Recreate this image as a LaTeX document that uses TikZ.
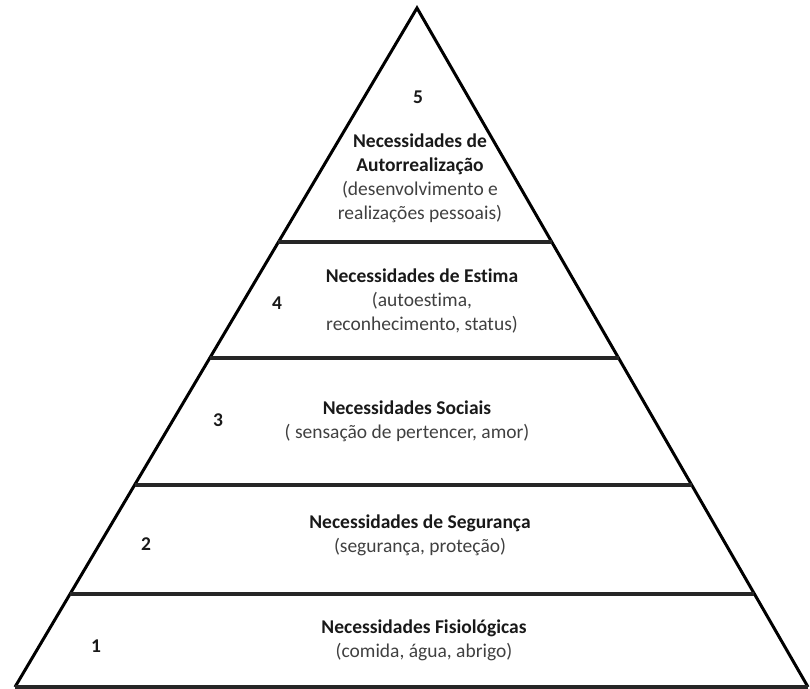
\documentclass[tikz,border=0pt]{standalone}
\usepackage{fontspec}
\setmainfont{Carlito}[Ligatures=NoCommon]
\usepackage{tikz}
\usetikzlibrary{positioning,calc}

\newcommand{\lvlhead}[1]{\textcolor{black!90}{\textbf{#1}}}

\begin{document}
\begin{tikzpicture}[
    x=1pt, y=-1pt,
    edge/.style={line width=3pt, line join=miter},
    divider/.style={line width=3.2pt, black!85},
    lvltext/.style={font=\fontsize{19.5}{24}\selectfont, text=black!75, align=center, inner sep=0pt},
    lvlnum/.style={font=\fontsize{19.5}{24}\selectfont\bfseries, text=black!90, inner sep=0pt}
]
    \useasboundingbox (0,0) rectangle (810,688);

    % Pyramid outline
    \coordinate (apex) at (417,8);
    \coordinate (bl) at (15,687);
    \coordinate (br) at (808,687);
    \draw[edge] (bl) -- (apex) -- (br);
    \draw[divider] (bl) -- (br);

    % Level dividers
    \foreach \t in {0.3446,0.5155,0.7025,0.863}
        \draw[divider] ($(apex)!\t!(bl)$) -- ($(apex)!\t!(br)$);

    % Level 5
    \node[lvlnum] (num5) at (418,97) {5};
    \node[lvltext] (lvl5) at (420,178) {\lvlhead{Necessidades de}\\\lvlhead{Autorrealização}\\(desenvolvimento e\\realizações pessoais)};

    % Level 4
    \node[lvlnum] (num4) at (277,303) {4};
    \node[lvltext] (lvl4) at (422,301) {\lvlhead{Necessidades de Estima}\\(autoestima,\\reconhecimento, status)};

    % Level 3
    \node[lvlnum] (num3) at (218,420) {3};
    \node[lvltext] (lvl3) at (407,421) {\lvlhead{Necessidades Sociais}\\( sensação de pertencer, amor)};

    % Level 2
    \node[lvlnum] (num2) at (146,544) {2};
    \node[lvltext] (lvl2) at (420,535) {\lvlhead{Necessidades de Segurança}\\(segurança, proteção)};

    % Level 1
    \node[lvlnum] (num1) at (96,646) {1};
    \node[lvltext] (lvl1) at (424,640) {\lvlhead{Necessidades Fisiológicas}\\(comida, água, abrigo)};
\end{tikzpicture}
\end{document}
